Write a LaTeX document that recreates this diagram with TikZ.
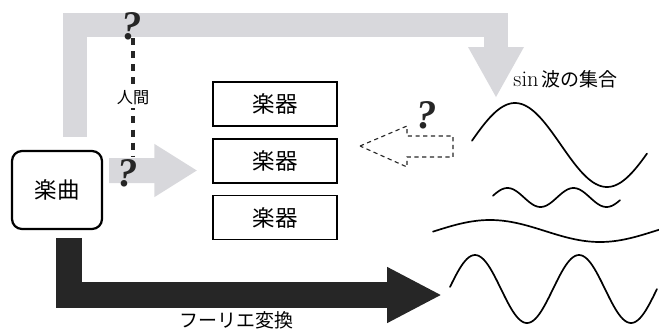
\documentclass[tikz,border=0pt]{standalone}
\usepackage{fontspec}
\newfontfamily\jp{Noto Sans CJK JP}
\newfontfamily\qfont{Liberation Serif}
\usetikzlibrary{arrows.meta}
\definecolor{bandgray}{RGB}{216,216,220}
\definecolor{inkdark}{RGB}{38,38,38}

\begin{document}
\begin{tikzpicture}[line cap=round,x=1.0cm,y=1.0cm,
    songbox/.style={draw, line width=1.6pt, rounded corners=0.25cm, minimum width=2.25cm, minimum height=1.95cm, inner sep=0pt, font=\jp\fontsize{16}{16}\selectfont},
    instbox/.style={draw, line width=0.9pt, minimum width=3.1cm, minimum height=1.1cm, inner sep=0pt, font=\jp\fontsize{16}{16}\selectfont},
    band/.style={bandgray, line width=0.6cm, line cap=butt, -{Triangle[length=1.275cm,width=1.3cm]}},
    fourierband/.style={inkdark, line width=0.65cm, line cap=butt, -{Triangle[length=1.375cm,width=1.3cm]}},
    humanline/.style={inkdark, line width=3.2pt, line cap=butt, dash pattern=on 5pt off 4.3pt},
    hollow/.style={inkdark, line width=0.8pt, line cap=butt, dash pattern=on 3pt off 2.5pt},
    ask/.style={inner sep=0pt, inkdark, font=\qfont\fontsize{29}{29}\selectfont\bfseries\itshape},
    tag/.style={inner sep=1pt, font=\jp\fontsize{13.5}{14}\selectfont},
    wave/.style={line width=1.2pt}]
            \useasboundingbox (0,0) rectangle (16.475,-8.225);
            \node[songbox] (song) at (1.425,-4.75) {楽曲};   %song
            \node[instbox] (inst1) at (6.875,-2.6) {楽器};
            \node[instbox] (inst2) at (6.875,-4.025) {楽器};
            \node[instbox] (inst3) at (6.875,-5.4375) {楽器};
            \coordinate (bend) at (12.4,-0.6125);
            \coordinate (waves) at (12.4,-2.45);
            \coordinate (spec) at (11.05,-7.375);
            %\draw[help lines] (0,-8.225) grid (16.475,0);
            \draw[band] ([xshift=0.45cm,yshift=0.325cm]song.north) |- (bend) -- (waves);
            \draw[band, line width=0.625cm, -{Triangle[length=1.075cm,width=1.25cm]}] ([shift={(0.15,0.4875)}]song.east) -- ([shift={(-0.375,-0.2375)}]inst2.west);
            \draw[fourierband] ([xshift=0.3cm,yshift=-0.2cm]song.south) |- (spec);
            \node[tag] (fourier) at (5.91,-8.0) {フーリエ変換};
            % human
            \coordinate (qtop) at (3.325,-0.95);
            \coordinate (qbot) at (3.325,-3.925);
            \draw[humanline] (qtop) -- (qbot);
            \node[tag, fill=white, inner sep=2pt, font=\jp\fontsize{11.5}{12}\selectfont] (human) at (3.325,-2.45) {人間};
            \node[ask] (ask1) at (3.3,-0.65) {?};
            \node[ask] (ask2) at (3.2,-4.325) {?};
            % back arrow
            \draw[hollow] (9.0,-3.65) -- (10.175,-3.15) -- (10.175,-3.4) -- (11.325,-3.4) -- (11.325,-3.925) -- (10.175,-3.925) -- (10.175,-4.175) -- cycle;
            \node[ask] (ask3) at (10.675,-2.875) {?};
            % sin waves
            \node[tag] (sinset) at (14.14,-1.975) {{\rmfamily\fontsize{16}{16}\selectfont sin}\,波の集合};
            \draw[wave] plot[domain=11.8:16.175, samples=90] (\x,{-3.625+1.05*sin(360*(\x-11.725)/4.6)});
            \draw[wave] plot[domain=12.325:15.5, samples=90] (\x,{-4.9375+0.2375*sin(360*(\x-12.275)/1.65)});
            \draw[wave] plot[domain=10.825:16.475, samples=90] (\x,{-5.775+0.275*sin(360*(\x-10.875)/5.5)});
            \draw[wave] plot[domain=11.25:16.425, samples=110] (\x,{-7.225+0.85*sin(360*(\x-11.225)/2.6)});
            \end{tikzpicture}
\end{document}
